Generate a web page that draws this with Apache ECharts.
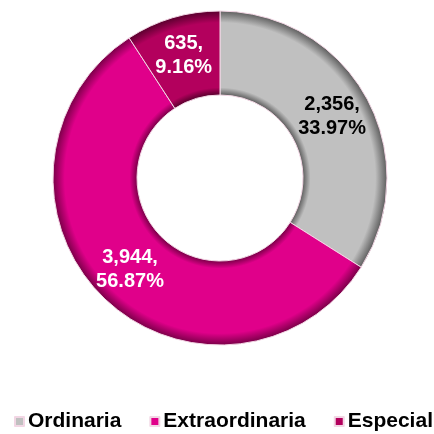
<!DOCTYPE html>
<html>
<head>
<meta charset="utf-8">
<script src="https://cdn.jsdelivr.net/npm/echarts@6/dist/echarts.min.js"></script>
<style>
  html, body { margin: 0; padding: 0; background: #fff; }
  #chart { width: 434px; height: 434px; }
</style>
</head>
<body>
<div id="chart"></div>
<script>
// datos del gráfico
const categories = ["Ordinaria", "Extraordinaria", "Especial"];
const values = [2356, 3944, 635];
const baseColors = ["#c0c0c0", "#e0008a", "#b3005d"];
const edgeColors = ["#5f5f5f", "#7a0048", "#5a002e"];
const labelColors = ["#000", "#fff", "#fff"];

const cx = 220, cy = 178, rIn = 83, rOut = 167;

// gradiente radial para el efecto de bisel
function bevel(base, edge) {
  const a = rIn / rOut;
  return new echarts.graphic.RadialGradient(cx, cy, rOut, [
    { offset: 0, color: edge },
    { offset: a, color: edge },
    { offset: a + 0.045, color: base },
    { offset: 0.93, color: base },
    { offset: 1, color: edge },
  ], true);
}

const chart = echarts.init(document.getElementById("chart"));

const seriesData = categories.map((name, i) => ({
  name: name,
  value: values[i],
  itemStyle: { color: bevel(baseColors[i], edgeColors[i]) },
  label: { color: labelColors[i] },
}));

chart.setOption({
  animation: false,
  legend: {
    bottom: 2,
    left: 14,
    padding: 0,
    icon: "rect",
    itemWidth: 9,
    itemHeight: 9,
    itemGap: 28,
    data: categories.map((name, i) => ({
      name: name,
      itemStyle: { color: baseColors[i] },
    })),
    textStyle: {
      fontFamily: "Liberation Sans, Arial, sans-serif",
      fontWeight: "bold",
      fontSize: 21,
      color: "#000",
      padding: [0, 0, 0, -1],
    },
  },
  series: [
    {
      type: "pie",
      center: [cx, cy],
      radius: [rIn, rOut],
      startAngle: 90,
      percentPrecision: 2,
      itemStyle: { borderColor: "#f2d6e4", borderWidth: 1 },
      label: {
        position: "inside",
        fontFamily: "Liberation Sans, Arial, sans-serif",
        fontWeight: "bold",
        fontSize: 20,
        lineHeight: 24,
        formatter: (p) => p.value.toLocaleString("en-US") + ",\n" + p.percent.toFixed(2) + "%",
      },
      labelLine: { show: false },
      data: seriesData,
    },
  ],
});
</script>
</body>
</html>
